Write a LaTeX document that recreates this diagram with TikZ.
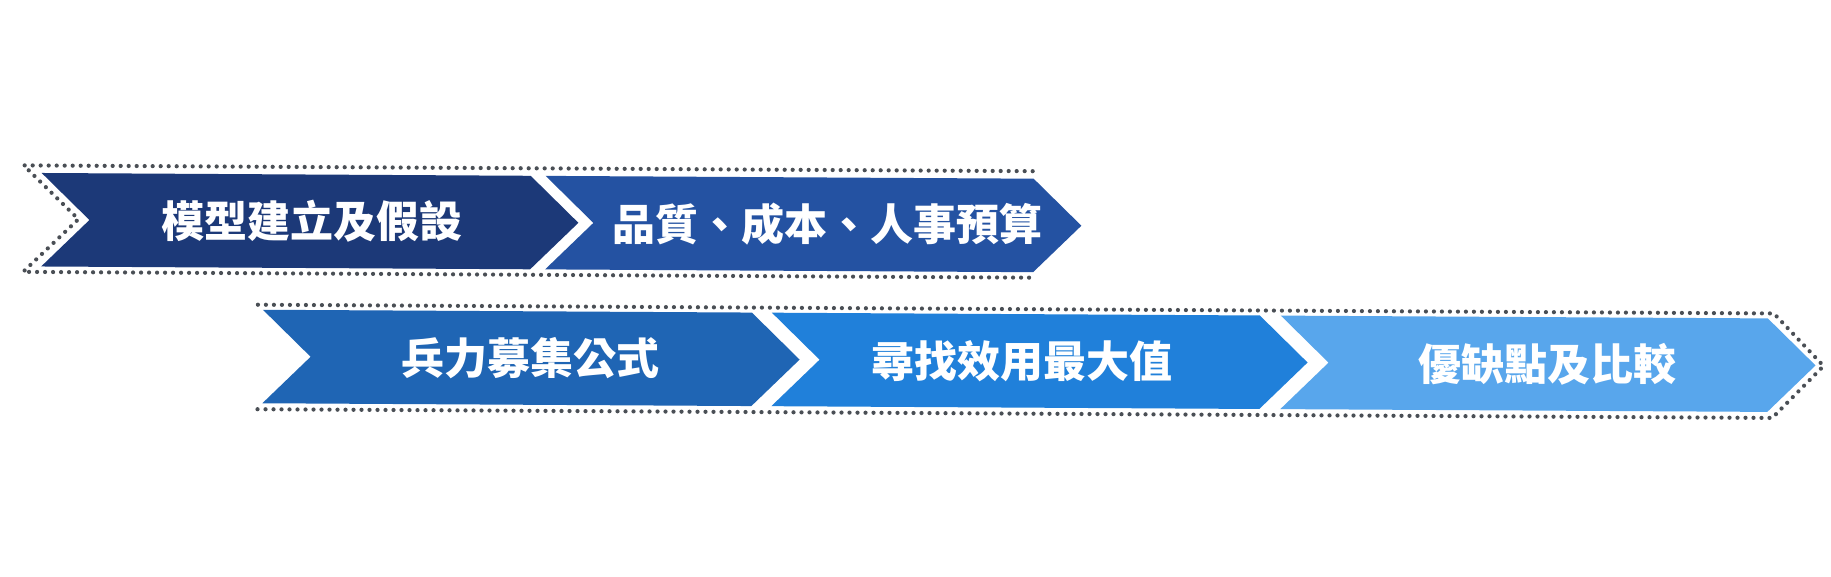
\documentclass[tikz,border=0pt]{standalone}
\usepackage{fontspec}
\newfontfamily\cjk{Noto Sans CJK TC}
\definecolor{cA}{HTML}{1C3978}
\definecolor{cB}{HTML}{2452A2}
\definecolor{cC}{HTML}{1F65B4}
\definecolor{cD}{HTML}{2080DA}
\definecolor{cE}{HTML}{58A6EC}
\definecolor{dotc}{HTML}{4A4F55}
\tikzset{
  dotline/.style={draw=dotc, line width=4.2pt, line cap=round, dash pattern=on 0pt off 8pt},
  lbl/.style={text=white, font=\cjk\bfseries\fontsize{43}{43}\selectfont, inner sep=0pt}
}
% chevron: #1 L, #2 R, #3 T, #4 B, #5 colour
\newcommand{\mychev}[5]{%
  \fill[#5] (#1,#3) -- (#2,#3) -- ({#2+48},{(#3+#4)/2}) -- (#2,#4) -- (#1,#4) -- ({#1+48},{(#3+#4)/2}) -- cycle;}
\begin{document}
\begin{tikzpicture}[x=1pt,y=-1pt]
\useasboundingbox[fill=white] (0,0) rectangle (1831,576);
\begin{scope}[rotate around={-0.33:(915,288)}]
  % row 1 dotted outline
  \draw[dotline] (1032,170.5) -- (23,170.5) -- (78,224) -- (23,277) -- (1035,277);
  % row 2 dotted outline
  \draw[dotline] (258,308.5) -- (1774,308.5) -- (1824,360.75) -- (1773,413) -- (258,413);
  % row 1 boxes
  \mychev{41}{530}{178}{271.5}{cA}
  \mychev{545}{1033}{178}{271.5}{cB}
  % row 2 boxes
  \mychev{263}{752}{313.5}{407}{cC}
  \mychev{772}{1260}{313.5}{407}{cD}
  \mychev{1281}{1768}{313.5}{407}{cE}
  % labels
  \node[lbl] (t1) at (312,224.75) {模型建立及假設};
  \node[lbl] (t2) at (827,224.75) {品質、成本、人事預算};
  \node[lbl] (t3) at (531,360.25) {兵力募集公式};
  \node[lbl] (t4) at (1022,360.25) {尋找效用最大值};
  \node[lbl] (t5) at (1548,360.25) {優缺點及比較};
\end{scope}
\end{tikzpicture}
\end{document}
